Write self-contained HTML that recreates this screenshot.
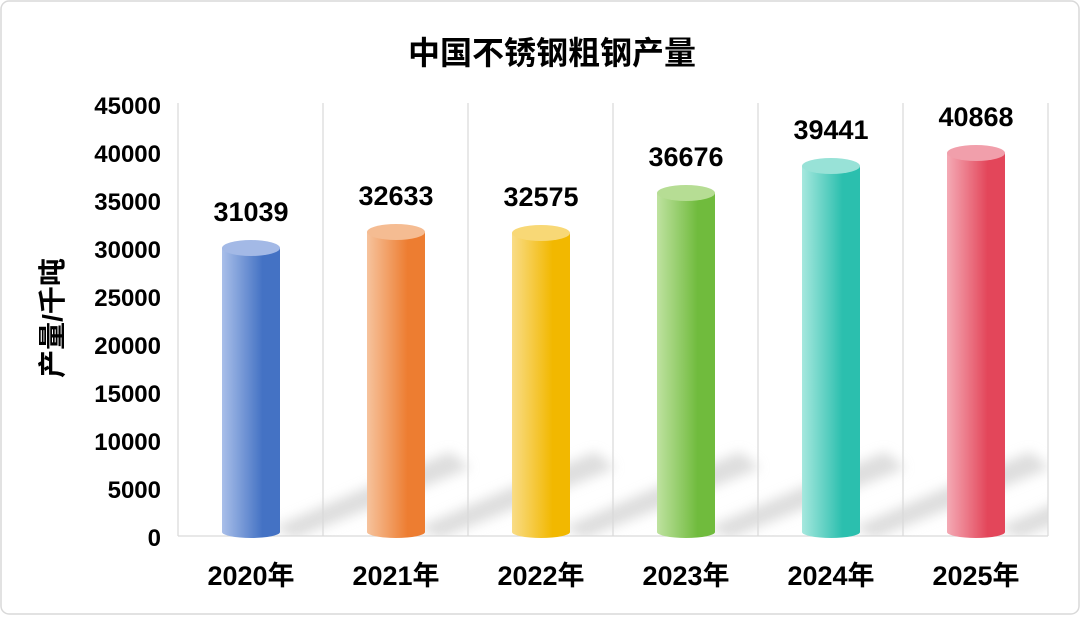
<!DOCTYPE html>
<html><head><meta charset="utf-8"><style>
html,body{margin:0;padding:0;background:#fff;}
svg text{font-family:"Liberation Sans","Noto Sans CJK SC",sans-serif;font-weight:bold;fill:#000;}
</style></head><body>
<svg width="1080" height="615" viewBox="0 0 1080 615" xmlns="http://www.w3.org/2000/svg">
<defs>
<filter id="bl" x="-50%" y="-50%" width="200%" height="200%"><feGaussianBlur stdDeviation="6"/></filter>
<clipPath id="pc"><rect x="178" y="100" width="870" height="436"/></clipPath>
<linearGradient id="g0"><stop offset="0" stop-color="#a9bfe9"/><stop offset="0.7" stop-color="#4472c4"/></linearGradient>
<linearGradient id="g1"><stop offset="0" stop-color="#f6c39d"/><stop offset="0.7" stop-color="#ed7d31"/></linearGradient>
<linearGradient id="g2"><stop offset="0" stop-color="#f9dc86"/><stop offset="0.7" stop-color="#f2b800"/></linearGradient>
<linearGradient id="g3"><stop offset="0" stop-color="#bfe2a0"/><stop offset="0.7" stop-color="#70bb3d"/></linearGradient>
<linearGradient id="g4"><stop offset="0" stop-color="#a6e8de"/><stop offset="0.7" stop-color="#2bbfae"/></linearGradient>
<linearGradient id="g5"><stop offset="0" stop-color="#f4aab5"/><stop offset="0.7" stop-color="#e3465a"/></linearGradient>
</defs>
<rect x="1" y="1" width="1078" height="613" rx="8" fill="#fff" stroke="#d9d9d9" stroke-width="1.5"/>
<text x="552" y="64" font-size="32" text-anchor="middle">中国不锈钢粗钢产量</text>
<g clip-path="url(#pc)">
<g fill="#d4d4d4" opacity="0.8" filter="url(#bl)">
<polygon points="272,528 295,538 470,468 450,452"/>
<polygon points="417,528 440,538 615,468 595,452"/>
<polygon points="562,528 585,538 760,468 740,452"/>
<polygon points="707,528 730,538 905,468 885,452"/>
<polygon points="852,528 875,538 1050,468 1030,452"/>
<polygon points="997,528 1020,538 1195,468 1175,452"/>
</g>
</g>
<g stroke="#d9d9d9" stroke-width="1.2">
<line x1="178" y1="103" x2="178" y2="536"/><line x1="323" y1="103" x2="323" y2="536"/>
<line x1="468" y1="103" x2="468" y2="536"/><line x1="613" y1="103" x2="613" y2="536"/>
<line x1="758" y1="103" x2="758" y2="536"/><line x1="903" y1="103" x2="903" y2="536"/>
<line x1="1048" y1="103" x2="1048" y2="536"/>
<line x1="178" y1="536" x2="1048" y2="536"/>
</g>
<g font-size="24" text-anchor="end">
<text x="161" y="114">45000</text><text x="161" y="162">40000</text><text x="161" y="210">35000</text>
<text x="161" y="258">30000</text><text x="161" y="306">25000</text><text x="161" y="354">20000</text>
<text x="161" y="402">15000</text><text x="161" y="450">10000</text><text x="161" y="498">5000</text>
<text x="161" y="546">0</text>
</g>
<text transform="translate(62,318) rotate(-90)" font-size="28" text-anchor="middle">产量/千吨</text>
<g font-size="27" text-anchor="middle">
<text x="251" y="585">2020年</text><text x="396" y="585">2021年</text><text x="541" y="585">2022年</text>
<text x="686" y="585">2023年</text><text x="831" y="585">2024年</text><text x="976" y="585">2025年</text>
</g>
<g>
<path d="M222,248 V532 A29,6 0 0 0 280,532 V248 Z" fill="url(#g0)"/><ellipse cx="251" cy="248" rx="29" ry="8" fill="#a3b9e6"/>
<path d="M367,232 V532 A29,6 0 0 0 425,532 V232 Z" fill="url(#g1)"/><ellipse cx="396" cy="232" rx="29" ry="8" fill="#f5bc92"/>
<path d="M512,233 V532 A29,6 0 0 0 570,532 V233 Z" fill="url(#g2)"/><ellipse cx="541" cy="233" rx="29" ry="8" fill="#f8d876"/>
<path d="M657,193 V532 A29,6 0 0 0 715,532 V193 Z" fill="url(#g3)"/><ellipse cx="686" cy="193" rx="29" ry="8" fill="#b6dd94"/>
<path d="M802,166 V532 A29,6 0 0 0 860,532 V166 Z" fill="url(#g4)"/><ellipse cx="831" cy="166" rx="29" ry="8" fill="#98e2d7"/>
<path d="M947,153 V532 A29,6 0 0 0 1005,532 V153 Z" fill="url(#g5)"/><ellipse cx="976" cy="153" rx="29" ry="8" fill="#f19fab"/>
</g>
<g font-size="27" text-anchor="middle">
<text x="251" y="221">31039</text><text x="396" y="205">32633</text><text x="541" y="206">32575</text>
<text x="686" y="166">36676</text><text x="831" y="139">39441</text><text x="976" y="126">40868</text>
</g>
</svg>
</body></html>
